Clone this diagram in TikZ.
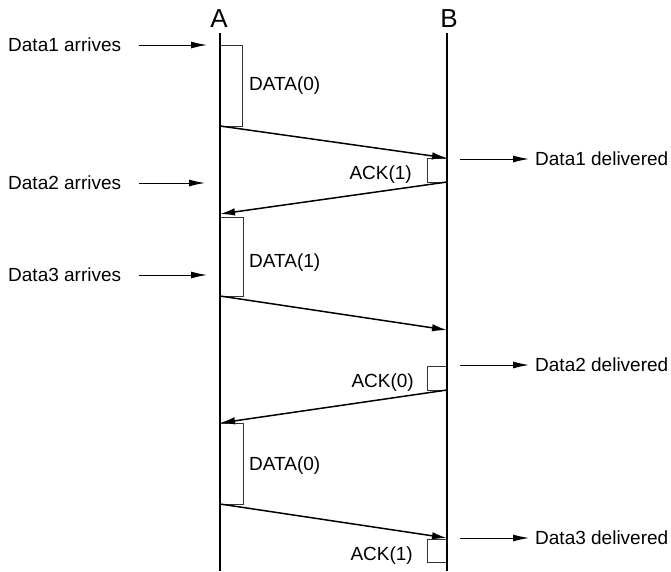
\documentclass[tikz,border=0pt]{standalone}
\usepackage{fontspec}
\setmainfont{Liberation Sans}
\usetikzlibrary{arrows.meta}
\begin{document}
\begin{tikzpicture}[x=1pt,y=-1pt,
  lbl/.style={inner sep=0pt,font=\fontsize{19}{22}\selectfont},
  head/.style={inner sep=0pt,font=\fontsize{26}{28}\selectfont},
  life/.style={line width=2pt},
  msg/.style={line width=1.5pt,-{Latex[length=15pt,width=7.5pt]}},
  evt/.style={line width=1pt,-{Latex[length=16pt,width=7pt]}},
  busy/.style={draw=black!80,line width=0.9pt,fill=white}]
\useasboundingbox (0,0) rectangle (671,571);
% lifelines
\coordinate (Atop) at (220,33);
\coordinate (Abot) at (220,571);
\coordinate (Btop) at (447,33);
\coordinate (Bbot) at (447,571);
\node[head] (A) at (219,19) {A};
\node[head] (B) at (449,19) {B};
% busy boxes
\draw[busy] (220,45) rectangle (242,126);
\draw[busy] (427,158) rectangle (447,182);
\draw[busy] (220,217) rectangle (243,296);
\draw[busy] (427,366) rectangle (447,390);
\draw[busy] (220,423) rectangle (243,504);
\draw[busy] (427,539) rectangle (447,562);
\draw[life] (Atop) -- (Abot);
\draw[life] (Btop) -- (Bbot);
% message endpoints
\coordinate (d0s) at (220,126); \coordinate (d0e) at (447,158);
\coordinate (a1s) at (447,182); \coordinate (a1e) at (220,214);
\coordinate (d1s) at (220,296); \coordinate (d1e) at (447,330);
\coordinate (a0s) at (447,390); \coordinate (a0e) at (220,423);
\coordinate (d2s) at (220,504); \coordinate (d2e) at (447,538);
\draw[msg] (d0s) -- (d0e);
\draw[msg] (a1s) -- (a1e);
\draw[msg] (d1s) -- (d1e);
\draw[msg] (a0s) -- (a0e);
\draw[msg] (d2s) -- (d2e);
% labels on messages
\node[lbl,anchor=west] (L1) at (249,86) {DATA(0)};
\node[lbl,anchor=east] (L2) at (412,175) {ACK(1)};
\node[lbl,anchor=west] (L3) at (249,263) {DATA(1)};
\node[lbl,anchor=east] (L4) at (414,383) {ACK(0)};
\node[lbl,anchor=west] (L5) at (249,466) {DATA(0)};
\node[lbl,anchor=east] (L6) at (413,556) {ACK(1)};
% arrivals
\node[lbl,anchor=west] (r1) at (8,45) {Data1 arrives};
\node[lbl,anchor=west] (r2) at (8,183) {Data2 arrives};
\node[lbl,anchor=west] (r3) at (8,275) {Data3 arrives};
\coordinate (r1s) at (139,45); \coordinate (r1e) at (207,45);
\coordinate (r2s) at (139,183); \coordinate (r2e) at (205,183);
\coordinate (r3s) at (139,275); \coordinate (r3e) at (207,275);
\draw[evt] (r1s) -- (r1e);
\draw[evt] (r2s) -- (r2e);
\draw[evt] (r3s) -- (r3e);
% deliveries
\node[lbl,anchor=west] (v1) at (535,159) {Data1 delivered};
\node[lbl,anchor=west] (v2) at (535,365) {Data2 delivered};
\node[lbl,anchor=west] (v3) at (535,538) {Data3 delivered};
\coordinate (v1s) at (460,159); \coordinate (v2s) at (460,365); \coordinate (v3s) at (460,538);
\draw[evt] (v1s) -- ([xshift=-6pt]v1.west);
\draw[evt] (v2s) -- ([xshift=-6pt]v2.west);
\draw[evt] (v3s) -- ([xshift=-6pt]v3.west);
\end{tikzpicture}
\end{document}
